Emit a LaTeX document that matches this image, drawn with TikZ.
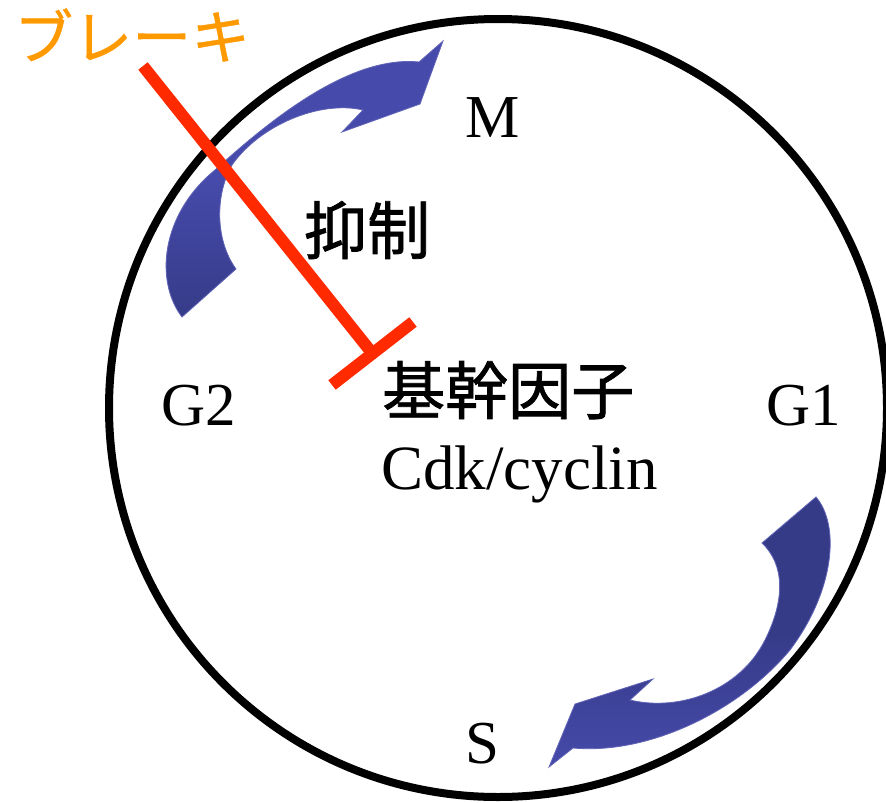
\documentclass[tikz,border=0pt]{standalone}
\usepackage{fontspec}
\setmainfont{Liberation Serif}
\newfontfamily\cjk[FakeBold=1.2]{Noto Sans CJK JP}
\newfontfamily\cjklight[FakeBold=0.6]{Noto Sans CJK JP}
\definecolor{arrowlight}{HTML}{464AAA}
\definecolor{arrowdark}{HTML}{363B88}
\definecolor{brakered}{HTML}{FF2A00}
\definecolor{brakeorange}{HTML}{FF9900}
\begin{document}
\begin{tikzpicture}[x=1pt,y=-1pt,
  phase/.style={inner sep=0pt,anchor=base west,font=\fontsize{61}{61}\selectfont},
  jp/.style={inner sep=0pt,anchor=base west,font=\cjk\fontsize{63}{63}\selectfont},
  bluearrow/.style={draw=arrowlight!85!white,line width=0.8pt}]
\useasboundingbox (0,0) rectangle (886,803);
\fill[white] (0,0) rectangle (886,803);
% cell cycle circle
\node[circle,draw=black,line width=8pt,minimum size=778pt,inner sep=0pt] (cycle) at (498,408) {};
% upper arrow (G2 -> M)
\shade[bluearrow,top color=arrowlight,bottom color=arrowdark,middle color=arrowlight]
  (182,317) .. controls (155,282) and (160,215) .. (215,170)
  .. controls (270,120) and (350,55) .. (419,62)
  -- (443,41) -- (420,104) -- (342,132) -- (363,110)
  .. controls (320,100) and (260,125) .. (232,165)
  .. controls (215,195) and (215,240) .. (236,269) -- cycle;
% lower arrow (G1 -> S)
\shade[bluearrow,top color=arrowdark,bottom color=arrowlight,middle color=arrowdark]
  (816,497) .. controls (840,525) and (835,590) .. (790,650)
  .. controls (740,710) and (650,755) .. (573,748)
  -- (549,767) -- (575,704) -- (653,679) -- (630,700)
  .. controls (680,712) and (740,690) .. (765,640)
  .. controls (785,600) and (785,565) .. (762,543) -- cycle;
% labels
\node[phase] (M) at (465,137) {M};
\node[phase] (G2) at (161,425) {G2};
\node[phase] (G1) at (766,425) {G1};
\node[phase] (S) at (465,763) {S};
\node[phase,font=\fontsize{63}{63}\selectfont] (cdk) at (381,489) {Cdk/cyclin};
\node[jp] (kikan) at (382,414) {基幹因子};
\node[jp] (yokusei) at (304,254) {抑制};
\node[jp,text=brakeorange,font=\cjklight\fontsize{59}{59}\selectfont] (brake) at (14,59) {ブレーキ};
% inhibition line
\coordinate (brakestart) at (143,66);
\coordinate (junction) at (372,353);
\coordinate (barA) at (332,385);
\coordinate (barB) at (413,322);
\draw[brakered,line width=12pt] (brakestart) -- (junction);
\draw[brakered,line width=12pt] (barA) -- (barB);
\end{tikzpicture}
\end{document}
